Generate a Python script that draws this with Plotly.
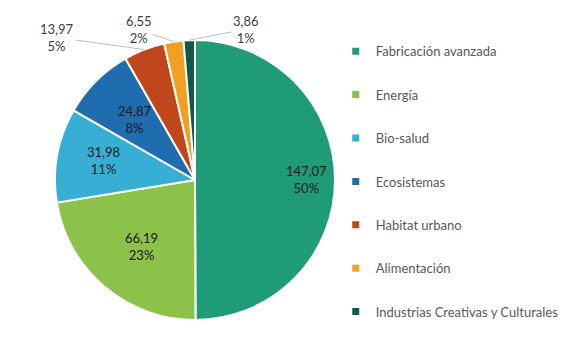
import math
import plotly.graph_objects as go

# Data
categories = ["Fabricación avanzada", "Energía", "Bio-salud", "Ecosistemas",
              "Habitat urbano", "Alimentación", "Industrias Creativas y Culturales"]
values = [147.07, 66.19, 31.98, 24.87, 13.97, 6.55, 3.86]
value_labels = ["147,07", "66,19", "31,98", "24,87", "13,97", "6,55", "3,86"]
pct_labels = ["50%", "23%", "11%", "8%", "5%", "2%", "1%"]
colors = ["#1f9b78", "#8cc14a", "#37afd4", "#1f6cae", "#c0461b", "#f2a01f", "#10594a"]

W, H = 571, 339
cx, cy, R = 195, 180, 140  # pie centre and radius in pixels

dom_x = [(cx - R) / W, (cx + R) / W]
dom_y = [1 - (cy + R) / H, 1 - (cy - R) / H]

inside = [True, True, True, True, False, False, False]

fig = go.Figure()
fig.add_trace(go.Pie(
    labels=categories, values=values, sort=False, direction="clockwise", rotation=0,
    marker=dict(colors=colors, line=dict(color="white", width=2)),
    textinfo="none", domain=dict(x=dom_x, y=dom_y), showlegend=False,
    hoverinfo="label+value",
))

# Value / percentage labels placed from each slice's mid angle
total = sum(values)
offsets = {4: (-87, -12), 5: (-35, -12), 6: (57, -11)}
cum = 0.0
for i, v in enumerate(values):
    mid = (cum + v / 2) / total
    cum += v
    ang = 2 * math.pi * mid
    label = f"{value_labels[i]}<br>{pct_labels[i]}"
    if inside[i]:
        r = 0.8 * R
        px = cx + r * math.sin(ang)
        py = cy - r * math.cos(ang)
        fig.add_annotation(
            x=px / W, y=1 - py / H, xref="paper", yref="paper", showarrow=False,
            text=label, align="center",
            font=dict(family="Lato", size=13, color="#1a1a1a"),
        )
    else:
        px = cx + R * math.sin(ang)
        py = cy - R * math.cos(ang)
        ax, ay = offsets[i]
        fig.add_annotation(
            x=px / W, y=1 - py / H, xref="paper", yref="paper",
            ax=ax, ay=ay, showarrow=True, arrowhead=0, arrowwidth=1, arrowcolor="#bfbfbf",
            text=label, align="center",
            font=dict(family="Lato", size=13, color="#404040"),
        )

# Legend entries
for name, col in zip(categories, colors):
    fig.add_trace(go.Scatter(
        x=[None], y=[None], mode="markers", name=name, legendgroup=name,
        marker=dict(symbol="square", size=7, color=col),
    ))

fig.update_layout(
    width=W, height=H, margin=dict(l=0, r=0, t=0, b=0),
    paper_bgcolor="white", plot_bgcolor="white",
    xaxis=dict(visible=False), yaxis=dict(visible=False),
    legend=dict(x=0.588, y=0.893, xanchor="left", yanchor="top",
                tracegroupgap=23.5, itemwidth=30,
                font=dict(family="Lato", size=13, color="#595959")),
)

fig.write_html("out.html")
